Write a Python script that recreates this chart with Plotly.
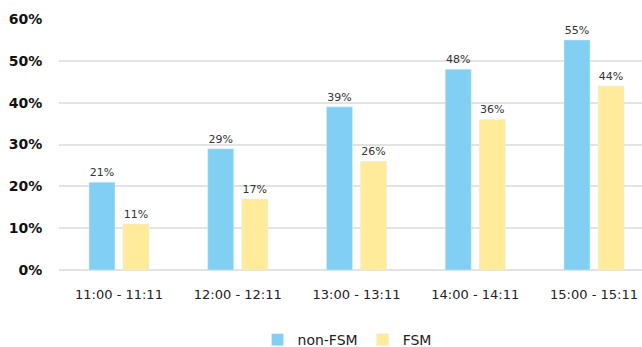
import plotly.graph_objects as go

categories = ["11:00 - 11:11", "12:00 - 12:11", "13:00 - 13:11", "14:00 - 14:11", "15:00 - 15:11"]
non_fsm = [21, 29, 39, 48, 55]
fsm = [11, 17, 26, 36, 44]
y_ticks = [0, 10, 20, 30, 40, 50, 60]
y_tick_text = [f"{v}%" for v in y_ticks]

FONT = "DejaVu Sans, sans-serif"
BLUE = "#82CFF4"
YELLOW = "#FFEB9A"

fig = go.Figure()
fig.add_trace(go.Bar(
    name="non-FSM", x=categories, y=non_fsm, marker_color=BLUE,
    text=[f"{v}%" for v in non_fsm], textposition="outside",
    textfont=dict(family=FONT, size=11, color="#333333"), cliponaxis=False,
))
fig.add_trace(go.Bar(
    name="FSM", x=categories, y=fsm, marker_color=YELLOW,
    text=[f"{v}%" for v in fsm], textposition="outside",
    textfont=dict(family=FONT, size=11, color="#333333"), cliponaxis=False,
))

fig.update_layout(
    width=642, height=347,
    margin=dict(l=59, r=0, t=19, b=77, autoexpand=False),
    paper_bgcolor="white", plot_bgcolor="white",
    barmode="group", bargap=0.427, bargroupgap=0.235,
    font=dict(family=FONT, color="#222222"),
    showlegend=True,
    legend=dict(orientation="h", x=0.494, xanchor="center", y=-0.279, yanchor="middle",
                font=dict(family=FONT, size=14, color="#222222"),
                itemwidth=30, traceorder="normal"),
    uniformtext=dict(mode=False),
)
fig.update_xaxes(
    type="category", range=[-0.505, 4.404], showgrid=False, showline=False,
    ticks="outside", ticklen=12, tickcolor="rgba(0,0,0,0)",
    tickfont=dict(family=FONT, size=13, color="#222222"),
)
fig.update_yaxes(
    range=[0, 60], tickvals=y_ticks, ticktext=y_tick_text,
    showgrid=True, gridcolor="#e3e3e3", gridwidth=1.5,
    zeroline=True, zerolinecolor="#e3e3e3", zerolinewidth=1.5,
    tickfont=dict(family=FONT, size=14, color="#111111", weight="bold"),
    ticks="outside", ticklen=13, tickcolor="rgba(0,0,0,0)",
)

fig.write_html("out.html")
